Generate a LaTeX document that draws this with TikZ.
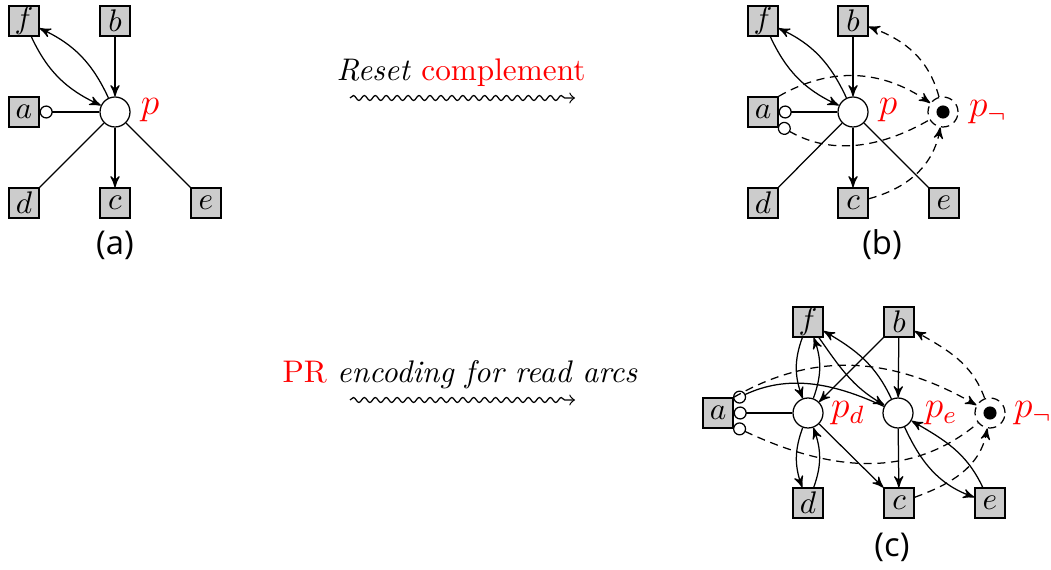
\documentclass[tikz,border=0pt]{standalone}
\usepackage{fontspec}
\newfontfamily\capfont{Open Sans}
\usetikzlibrary{arrows,arrows.meta,decorations.pathmorphing}
\begin{document}
\begin{tikzpicture}[x=0.32pt,y=-0.32pt,>=stealth',
  trans/.style={draw,fill=black!20,minimum size=9.6pt,inner sep=0pt},
  place/.style={draw,circle,fill=white,minimum size=9.6pt,inner sep=0pt},
  rd/.style={{Circle[open,length=4.2pt]}-},
  dsh/.style={dash pattern=on 2.6pt off 1.8pt},
  lbl/.style={text=red,font=\fontsize{11.5}{13}\selectfont},
  captxt/.style={font=\capfont\fontsize{10.5}{12}\selectfont},
  wave/.style={-to,decorate,decoration={snake,amplitude=0.8pt,segment length=3.5pt,post length=2pt}}]
\useasboundingbox (0,0) rectangle (1051,570);
% (a)
\node[place] (p1) at (115,112) {};
\node[trans] (f1) at (24,21) {$f$};\node[trans] (b1) at (115,21) {$b$};
\node[trans] (a1) at (24,112) {$a$};
\node[trans] (d1) at (24,203) {$d$};\node[trans] (c1) at (115,203) {$c$};
\node[trans] (e1) at (206,203) {$e$};
\node[lbl] (lp1) at (150,110) {$p$};
\node[captxt] (ca) at (115,245) {(a)};
\draw[->](b1)--(p1);\draw[->](p1)--(c1);
\draw(p1)--(d1)(p1)--(e1);
\draw[rd](a1)--(p1);
\draw[->](f1) edge[out=-65,in=155] (p1) (p1) edge[out=115,in=-25] (f1);
% transformations
\node[anchor=base] (t1) at (461,81) {\textit{Reset} \textcolor{red}{complement}};
\coordinate (w1s) at (350,98);\coordinate (w1e) at (575,98);
\draw[wave](w1s)--(w1e);
\node[anchor=base] (t2) at (460,383) {\textcolor{red}{PR} \textit{encoding for read arcs}};
\coordinate (w2s) at (350,400);\coordinate (w2e) at (575,400);
\draw[wave](w2s)--(w2e);
% (b)
\node[place] (p2) at (853,112) {};
\node[place,dsh] (pn2) at (943,112) {};\fill (pn2) circle (2.1pt);
\node[trans] (f2) at (763,21) {$f$};\node[trans] (b2) at (853,21) {$b$};
\node[trans] (a2) at (763,112) {$a$};
\node[trans] (d2) at (763,203) {$d$};\node[trans] (c2) at (853,203) {$c$};
\node[trans] (e2) at (944,203) {$e$};
\node[lbl] (lp2) at (888,110) {$p$};\node[lbl] (lpn2) at (988,112) {$p_\neg$};
\node[captxt] (cb) at (882,245) {(b)};
\draw[->](b2)--(p2);\draw[->](p2)--(c2);
\draw(p2)--(d2)(p2)--(e2);
\draw[rd](a2)--(p2);
\draw[->](f2) edge[out=-65,in=155] (p2) (p2) edge[out=115,in=-25] (f2);
\draw[dsh,->](a2.north east) to[out=30,in=145] (pn2);
\draw[dsh,rd](a2.-40) to[out=-30,in=-150] (pn2);
\draw[dsh,->](c2) to[out=15,in=-100] (pn2);
\draw[dsh,->](pn2) to[out=105,in=-20] (b2);
% (c)
\node[place] (pd3) at (808,413) {};\node[place] (pe3) at (898,413) {};
\node[place,dsh] (pn3) at (990,413) {};\fill (pn3) circle (2.1pt);
\node[trans] (f3) at (808,322) {$f$};\node[trans] (b3) at (899,322) {$b$};
\node[trans] (a3) at (718,413) {$a$};
\node[trans] (d3) at (808,503) {$d$};\node[trans] (c3) at (899,503) {$c$};
\node[trans] (e3) at (990,503) {$e$};
\node[lbl] (lpd3) at (848,413) {$p_d$};\node[lbl] (lpe3) at (941,413) {$p_e$};
\node[lbl] (lpn3) at (1033,413) {$p_\neg$};
\node[captxt] (cc) at (892,547) {(c)};
\draw[rd](a3)--(pd3);
\draw[rd](a3.40) to[out=25,in=155] (pe3);
\draw[->](b3)--(pd3);\draw[->](pd3)--(c3);
\draw[->](b3)--(pe3);\draw[->](pe3)--(c3);
\draw[->](f3) edge[out=-110,in=110] (pd3) (pd3) edge[out=70,in=-70] (f3)
(pd3) edge[out=-110,in=110] (d3) (d3) edge[out=70,in=-70] (pd3)
(f3) edge[out=-55,in=150] (pe3) (pe3) edge[out=115,in=-30] (f3)
(pe3) edge[out=-65,in=160] (e3) (e3) edge[out=115,in=-30] (pe3);
\draw[dsh,->](a3.north east) to[out=30,in=150] (pn3);
\draw[dsh,rd](a3.-40) to[out=-25,in=-140] (pn3);
\draw[dsh,->](c3) to[out=20,in=-100] (pn3);
\draw[dsh,->](pn3) to[out=110,in=-30] (b3);
\end{tikzpicture}
\end{document}
